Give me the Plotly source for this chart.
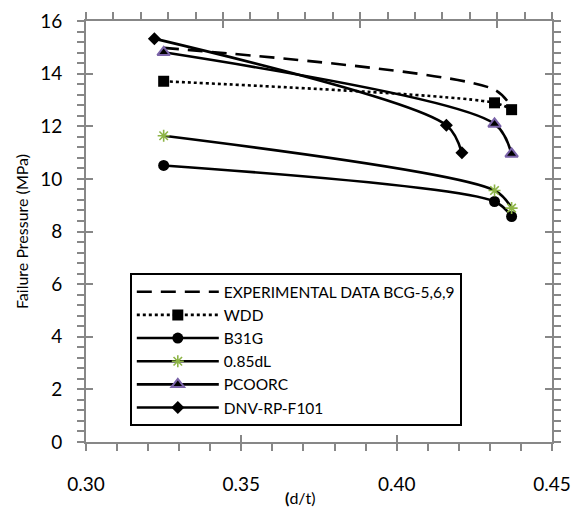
import plotly.graph_objects as go

# ---- data ----
x_dt = [0.325, 0.4315, 0.437]
x_dnv = [0.322, 0.416, 0.421]

exp_y = [14.98, 13.39, 12.71]
wdd_y = [13.71, 12.89, 12.63]
b31g_y = [10.51, 9.14, 8.57]
dl085_y = [11.64, 9.56, 8.89]
pcoorc_y = [14.81, 12.09, 10.95]
dnv_y = [15.33, 12.04, 10.99]

names = ["EXPERIMENTAL DATA BCG-5,6,9", "WDD", "B31G", "0.85dL", "PCOORC", "DNV-RP-F101"]

GRAY = "#878787"
FONT = "Lato"
SM = 0.85

fig = go.Figure()
LW = 2.6
fig.add_trace(go.Scatter(x=x_dt, y=exp_y, name=names[0], mode="lines",
                         line=dict(color="black", width=LW, dash="15px,9px", shape="spline", smoothing=SM)))
fig.add_trace(go.Scatter(x=x_dt, y=wdd_y, name=names[1], mode="lines+markers",
                         line=dict(color="black", width=LW, dash="dot", shape="spline", smoothing=SM),
                         marker=dict(symbol="square", size=11, color="black")))
fig.add_trace(go.Scatter(x=x_dt, y=b31g_y, name=names[2], mode="lines+markers",
                         line=dict(color="black", width=LW, shape="spline", smoothing=SM),
                         marker=dict(symbol="circle", size=11, color="black")))
fig.add_trace(go.Scatter(x=x_dt, y=dl085_y, name=names[3], mode="lines+markers",
                         line=dict(color="black", width=LW, shape="spline", smoothing=SM),
                         marker=dict(symbol="asterisk-open", size=10, color="#8db446",
                                     line=dict(color="#8db446", width=1.6))))
fig.add_trace(go.Scatter(x=x_dt, y=pcoorc_y, name=names[4], mode="lines+markers",
                         line=dict(color="black", width=LW, shape="spline", smoothing=SM),
                         marker=dict(symbol="triangle-up", size=11, color="black",
                                     line=dict(color="#7a63a8", width=2))))
fig.add_trace(go.Scatter(x=x_dnv, y=dnv_y, name=names[5], mode="lines+markers",
                         line=dict(color="black", width=LW, shape="spline", smoothing=SM),
                         marker=dict(symbol="diamond", size=10, color="black")))

# empty helper traces so that the frame / tick-only axes get drawn
for xa, ya in [("x2", "y"), ("x3", "y"), ("x4", "y"), ("x", "y2"), ("x", "y3"), ("x", "y4")]:
    fig.add_trace(go.Scatter(x=[], y=[], xaxis=xa, yaxis=ya, showlegend=False,
                             hoverinfo="skip", mode="lines"))

TL = 7
common = dict(tickcolor=GRAY, tickwidth=2, ticklen=TL, showgrid=False, zeroline=False, automargin=False)
minor_x = dict(ticks="outside", ticklen=TL, tickcolor=GRAY, tickwidth=2, showgrid=False)

fig.update_layout(
    width=576, height=509,
    margin=dict(l=86, r=24, t=21, b=67),
    paper_bgcolor="white", plot_bgcolor="white",
    font=dict(family=FONT, color="black"),
    showlegend=True,
    legend=dict(x=0.094, y=0.401, xanchor="left", yanchor="top",
                bordercolor="black", borderwidth=2, bgcolor="white",
                font=dict(size=15.5, family=FONT, color="black"), tracegroupgap=0,
                entrywidth=338, itemwidth=82),
    xaxis=dict(range=[0.30, 0.45], dtick=0.05, tick0=0.30, tickformat=".2f",
               ticks="outside", **common,
               showline=True, linecolor=GRAY, linewidth=2,
               tickfont=dict(size=19, family=FONT, color="black"), ticklabelstandoff=17,
               minor=dict(dtick=0.01, **minor_x)),
    xaxis2=dict(range=[0, 17], dtick=5, tick0=0, overlaying="x", side="top", anchor="y",
                ticks="outside", **common,
                showline=True, linecolor=GRAY, linewidth=2, showticklabels=False,
                minor=dict(dtick=1, **minor_x)),
    xaxis3=dict(range=[0.30, 0.45], dtick=0.05, tick0=0.30, overlaying="x", side="bottom", anchor="y",
                ticks="inside", **common, showline=False, showticklabels=False),
    xaxis4=dict(range=[0, 17], dtick=5, tick0=0, overlaying="x", side="top", anchor="y",
                ticks="inside", **common, showline=False, showticklabels=False),
    yaxis=dict(range=[0, 16], dtick=2, tick0=0,
               ticks="outside", **common,
               showline=True, linecolor=GRAY, linewidth=2,
               tickfont=dict(size=19, family=FONT, color="black"), ticklabelstandoff=11,
               title=dict(text="Failure Pressure (MPa)", font=dict(size=16, family=FONT, color="black"), standoff=8),
               minor=dict(dtick=0.4, **minor_x)),
    yaxis2=dict(range=[0, 16], dtick=2, tick0=0, overlaying="y", side="right", anchor="x",
                ticks="outside", **common,
                showline=True, linecolor=GRAY, linewidth=2, showticklabels=False,
                minor=dict(dtick=0.4, **minor_x)),
    yaxis3=dict(range=[0, 16], dtick=2, tick0=0, overlaying="y", side="left", anchor="x",
                ticks="inside", **common, showline=False, showticklabels=False),
    yaxis4=dict(range=[0, 16], dtick=2, tick0=0, overlaying="y", side="right", anchor="x",
                ticks="inside", **common, showline=False, showticklabels=False),
    annotations=[dict(text="<b>(</b>d/t)", xref="paper", yref="paper", x=0.459, y=-0.131,
                      showarrow=False, font=dict(size=16, family=FONT, color="black"),
                      xanchor="center", yanchor="middle")],
)

fig.write_html("out.html", config={"displayModeBar": False},
               post_script="document.body.style.margin='0px';document.body.style.overflow='hidden';")
